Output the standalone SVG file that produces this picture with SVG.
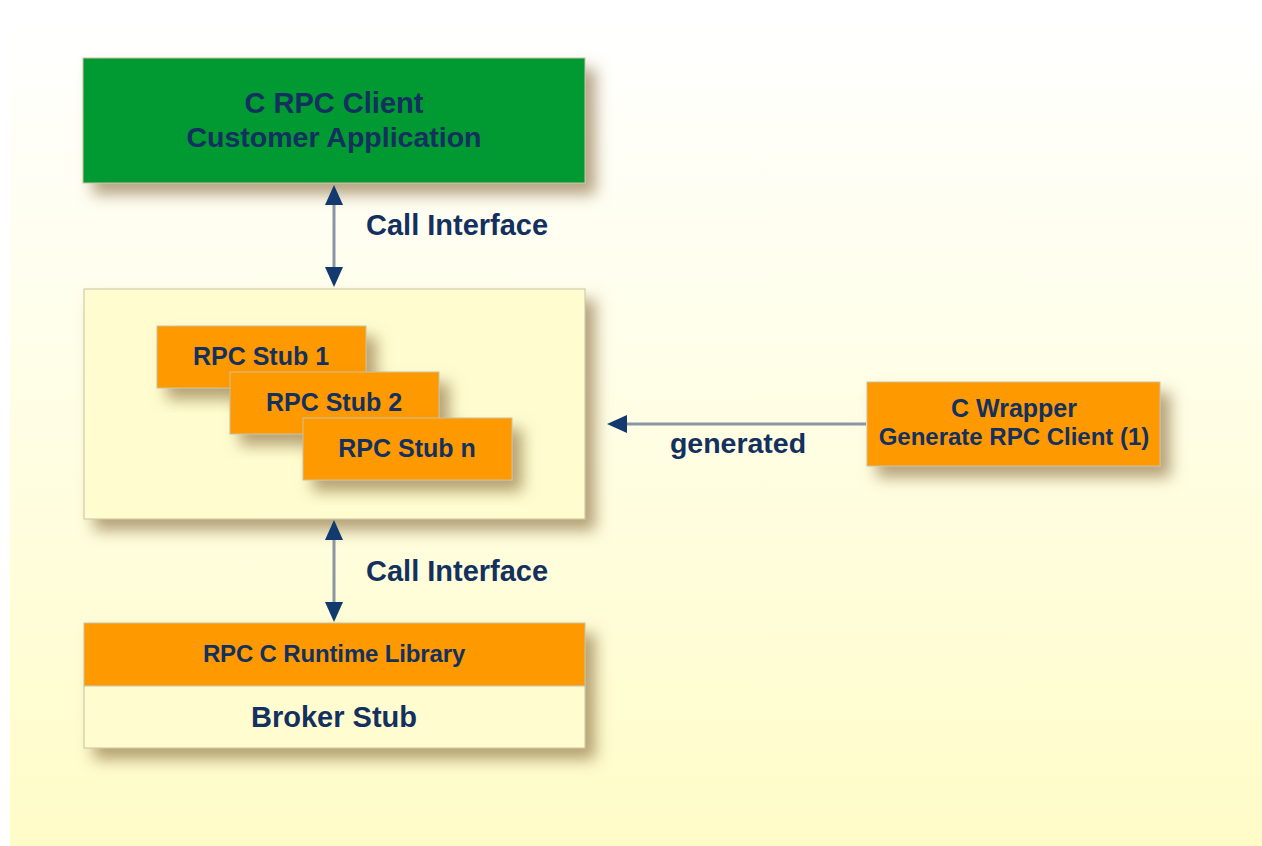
<svg xmlns="http://www.w3.org/2000/svg" width="1262" height="846" viewBox="0 0 1262 846">
  <defs>
    <linearGradient id="bg" x1="0" y1="0" x2="0" y2="1">
      <stop offset="0" stop-color="#ffffff"/>
      <stop offset="0.45" stop-color="#fffee6"/>
      <stop offset="1" stop-color="#fffcc8"/>
    </linearGradient>
    <filter id="shadow" x="-10%" y="-20%" width="130%" height="160%">
      <feDropShadow dx="10" dy="11" stdDeviation="7.5" flood-color="#80602e" flood-opacity="0.58"/>
    </filter>
    <marker id="head" viewBox="0 0 20 18" refX="0" refY="9" markerWidth="20" markerHeight="18" markerUnits="userSpaceOnUse" orient="auto-start-reverse">
      <path d="M0,0 L20,9 L0,18 Z" fill="#123a6e"/>
    </marker>
  </defs>
  <style>
    .lbl { font-family: "Liberation Sans", Arial, sans-serif; font-weight: bold; fill: #13305f; text-anchor: middle; }
    .start { text-anchor: start; }
    .box { stroke: #c9c2a0; stroke-width: 1; }
    .green { fill: #009933; }
    .orange { fill: #ff9900; }
    .pale { fill: #fffdd0; }
    .conn { stroke: #8a96a6; stroke-width: 3; fill: none; }
  </style>

  <rect width="1262" height="846" fill="#ffffff"/>
  <rect x="10" y="18" width="1252" height="828" fill="url(#bg)"/>

  <g id="client">
    <rect class="box green" x="83" y="58" width="502" height="125" filter="url(#shadow)"/>
    <text class="lbl" x="334" y="113" font-size="29">C RPC Client</text>
    <text class="lbl" x="334" y="147" font-size="28.5">Customer Application</text>
  </g>

  <g id="stubs">
    <rect class="box pale" x="84" y="289" width="501" height="230" filter="url(#shadow)"/>
    <g id="stub1">
      <rect class="box orange" x="157" y="326" width="209" height="62" filter="url(#shadow)"/>
      <text class="lbl" x="261" y="365" font-size="25">RPC Stub 1</text>
    </g>
    <g id="stub2">
      <rect class="box orange" x="230" y="372" width="209" height="62" filter="url(#shadow)"/>
      <text class="lbl" x="334" y="411" font-size="25">RPC Stub 2</text>
    </g>
    <g id="stubn">
      <rect class="box orange" x="303" y="418" width="209" height="62" filter="url(#shadow)"/>
      <text class="lbl" x="407" y="457" font-size="25">RPC Stub n</text>
    </g>
  </g>

  <g id="wrapper">
    <rect class="box orange" x="867" y="382" width="293" height="84" filter="url(#shadow)"/>
    <text class="lbl" x="1014" y="417" font-size="25">C Wrapper</text>
    <text class="lbl" x="1014" y="445" font-size="24">Generate RPC Client (1)</text>
  </g>

  <g id="runtime">
    <g filter="url(#shadow)">
      <rect class="box orange" x="84" y="623" width="501" height="63"/>
      <rect class="box pale" x="84" y="686" width="501" height="62"/>
    </g>
    <text class="lbl" x="334" y="662" font-size="24" letter-spacing="-0.15">RPC C Runtime Library</text>
    <text class="lbl" x="334" y="727" font-size="29">Broker Stub</text>
  </g>

  <g id="connectors">
    <line class="conn" x1="334" y1="205" x2="334" y2="267" marker-start="url(#head)" marker-end="url(#head)"/>
    <line class="conn" x1="334" y1="540" x2="334" y2="602" marker-start="url(#head)" marker-end="url(#head)"/>
    <line class="conn" x1="866" y1="424" x2="627" y2="424" marker-end="url(#head)"/>
    <text class="lbl start" x="366" y="235" font-size="29">Call Interface</text>
    <text class="lbl start" x="366" y="581" font-size="29">Call Interface</text>
    <text class="lbl" x="738" y="453" font-size="28.5">generated</text>
  </g>
</svg>
